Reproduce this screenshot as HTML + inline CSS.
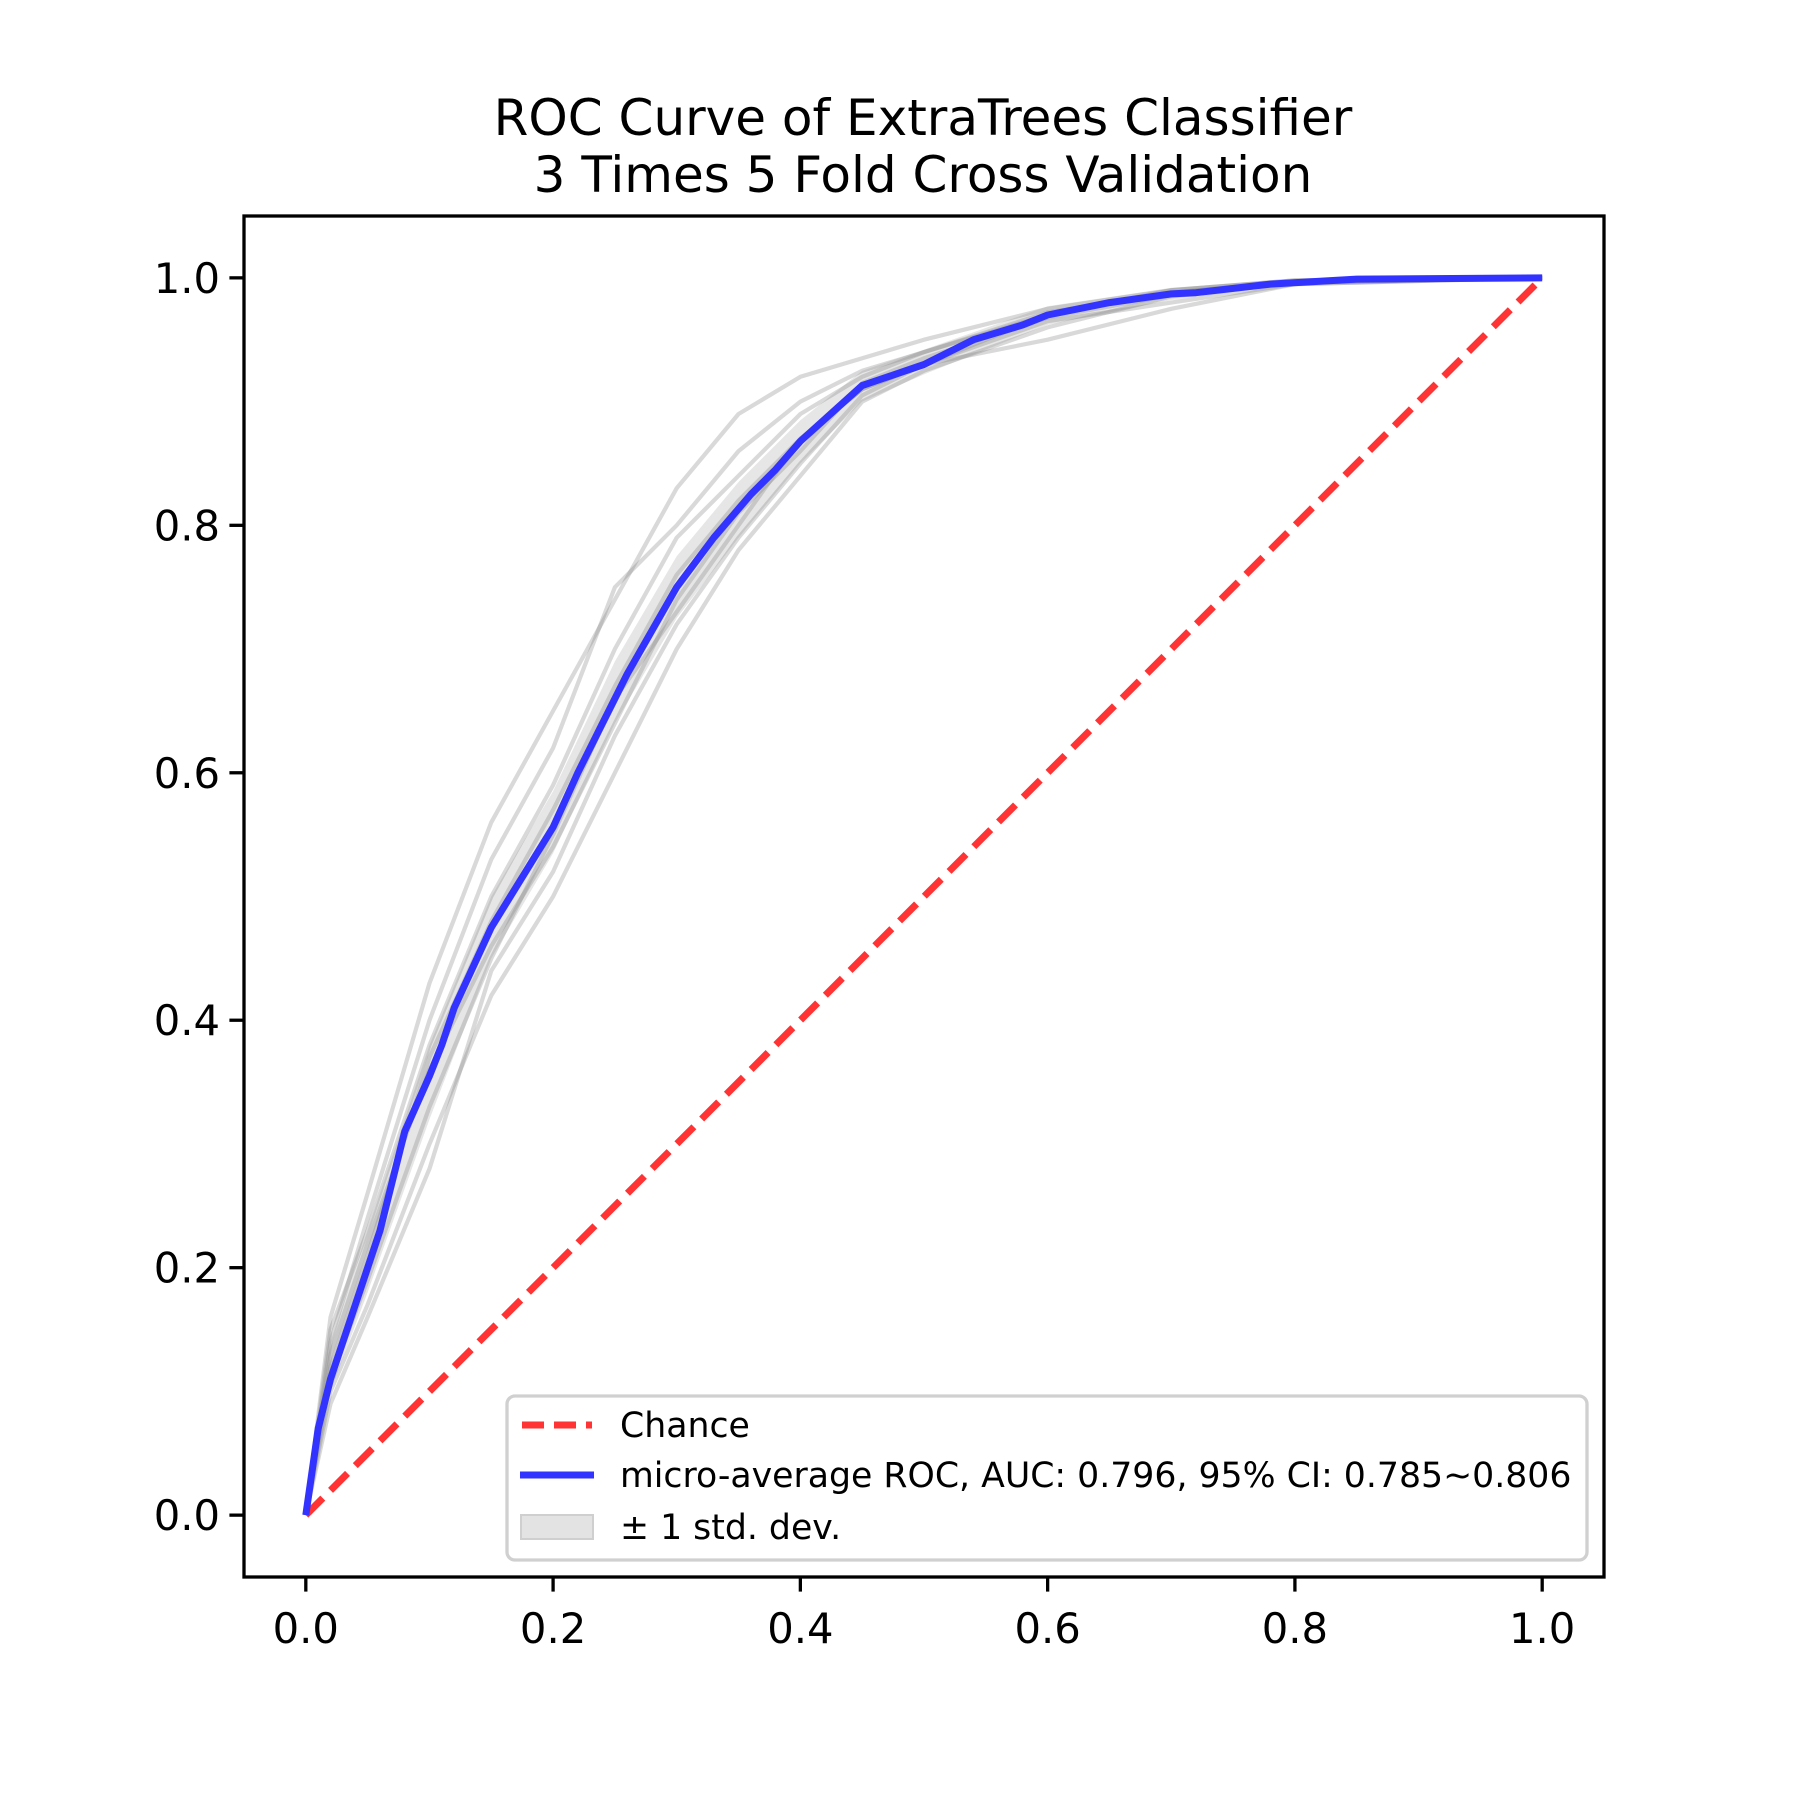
<!DOCTYPE html>
<html><head><meta charset="utf-8"><style>
body{margin:0;background:#fff}
svg text{font-family:"DejaVu Sans","Liberation Sans",sans-serif;fill:#000}
</style></head><body>
<svg id="chart" xmlns="http://www.w3.org/2000/svg" width="1800" height="1800" viewBox="0 0 1800 1800">
<rect width="1800" height="1800" fill="#fff"/>
<text x="923" y="135" font-size="50" text-anchor="middle">ROC Curve of ExtraTrees Classifier</text>
<text x="923" y="192" font-size="50" text-anchor="middle">3 Times 5 Fold Cross Validation</text>
<g id="plot"></g>
<rect x="244" y="216" width="1360" height="1361" fill="none" stroke="#000" stroke-width="3.3"/>
<g id="ticks"></g>
<g>
<rect x="507" y="1396" width="1080" height="164" rx="8" fill="#fff" fill-opacity="0.8" stroke="#d0d0d0" stroke-width="3.3"/>
<line x1="522" y1="1425" x2="592" y2="1425" stroke="#ff3333" stroke-width="7" stroke-dasharray="22,10"/>
<text x="620" y="1437" font-size="34.7">Chance</text>
<line x1="520" y1="1475" x2="594" y2="1475" stroke="#3333ff" stroke-width="7"/>
<text x="620" y="1487" font-size="34.7">micro-average ROC, AUC: 0.796, 95% CI: 0.785~0.806</text>
<rect x="521" y="1515" width="72" height="24" fill="#e3e3e3" stroke="#cfcfcf" stroke-width="2"/>
<text x="620" y="1539" font-size="34.7">± 1 std. dev.</text>
</g>
</svg>
<script>
const gridX=[0,0.02,0.05,0.1,0.15,0.2,0.25,0.3,0.35,0.4,0.45,0.5,0.6,0.7,0.8,1];
const fold1=[0,0.16,0.26,0.43,0.56,0.65,0.74,0.83,0.89,0.92,0.935,0.95,0.975,0.99,0.998,1];
const fold2=[0,0.14,0.24,0.40,0.53,0.62,0.75,0.80,0.86,0.90,0.925,0.94,0.972,0.988,0.997,1];
const fold3=[0,0.10,0.17,0.30,0.42,0.50,0.60,0.70,0.78,0.84,0.90,0.925,0.96,0.985,0.996,1];
const fold4=[0,0.09,0.16,0.28,0.44,0.52,0.63,0.72,0.79,0.85,0.905,0.93,0.965,0.98,0.995,1];
const fold5=[0,0.12,0.21,0.37,0.48,0.57,0.67,0.76,0.82,0.87,0.91,0.93,0.97,0.988,0.997,1];
const fold6=[0,0.13,0.22,0.36,0.46,0.54,0.64,0.74,0.81,0.86,0.915,0.935,0.968,0.986,0.996,1];
const fold7=[0,0.11,0.19,0.33,0.45,0.55,0.66,0.73,0.80,0.87,0.91,0.93,0.95,0.975,0.995,1];
const fold8=[0,0.15,0.23,0.38,0.50,0.59,0.70,0.79,0.84,0.89,0.92,0.94,0.97,0.99,0.998,1];
const stdUpper=[0,0.14,0.23,0.38,0.50,0.585,0.69,0.775,0.835,0.885,0.925,0.942,0.977,0.992,0.999,1];
const stdLower=[0,0.10,0.18,0.32,0.45,0.535,0.64,0.725,0.79,0.85,0.9,0.922,0.962,0.982,0.995,1];
const rocX=[0,0.01,0.02,0.04,0.06,0.08,0.1,0.11,0.12,0.15,0.2,0.22,0.24,0.26,0.3,0.33,0.36,0.38,0.4,0.45,0.5,0.54,0.58,0.6,0.65,0.7,0.72,0.78,0.85,1];
const rocY=[0,0.07,0.11,0.17,0.23,0.31,0.355,0.38,0.41,0.475,0.556,0.6,0.64,0.68,0.75,0.79,0.825,0.845,0.868,0.913,0.93,0.95,0.962,0.97,0.98,0.987,0.988,0.995,0.999,1];
const tickVals=[0,0.2,0.4,0.6,0.8,1.0];
const tickLabels=["0.0","0.2","0.4","0.6","0.8","1.0"];
const NS="http://www.w3.org/2000/svg";
const L=244,R=1604,T=216,B=1577;
const sx=v=>L+(v+0.05)/1.1*(R-L);
const sy=v=>B-(v+0.05)/1.1*(B-T);
const plot=document.getElementById('plot');
function mk(tag,attrs,parent){const e=document.createElementNS(NS,tag);for(const k in attrs)e.setAttribute(k,attrs[k]);parent.appendChild(e);return e;}
function pts(xs,ys){return xs.map((x,i)=>sx(x).toFixed(1)+','+sy(ys[i]).toFixed(1)).join(' ');}
const band=mk('polygon',{points:pts(gridX,stdUpper)+' '+pts(gridX.slice().reverse(),stdLower.slice().reverse()),fill:'#808080','fill-opacity':0.2,stroke:'none'},plot);


const folds=[fold1,fold2,fold3,fold4,fold5,fold6,fold7,fold8];
folds.forEach((f,i)=>{
  const p=mk('polyline',{points:pts(gridX,f),fill:'none',stroke:'#808080','stroke-opacity':0.3,'stroke-width':4.2,'stroke-linejoin':'round'},plot);
  
  
});
const chance=mk('line',{x1:sx(0),y1:sy(0),x2:sx(1),y2:sy(1),stroke:'#ff3333','stroke-width':7,'stroke-dasharray':'24,11'},plot);


const roc=mk('polyline',{points:pts(rocX,rocY),fill:'none',stroke:'#3333ff','stroke-width':7,'stroke-linejoin':'round'},plot);


const tk=document.getElementById('ticks');
tickVals.forEach((v,i)=>{
  const a=mk('line',{x1:sx(v),y1:B,x2:sx(v),y2:B+14.6,stroke:'#000','stroke-width':3.3},tk);
  
  
  const t=mk('text',{x:sx(v),y:B+66,'font-size':41.7,'text-anchor':'middle'},tk);t.textContent=tickLabels[i];
  
  
  const b=mk('line',{x1:L-14.6,y1:sy(v),x2:L,y2:sy(v),stroke:'#000','stroke-width':3.3},tk);
  
  
  const u=mk('text',{x:L-24,y:sy(v)+15,'font-size':41.7,'text-anchor':'end'},tk);u.textContent=tickLabels[i];
  
  
});
</script>
</body></html>
